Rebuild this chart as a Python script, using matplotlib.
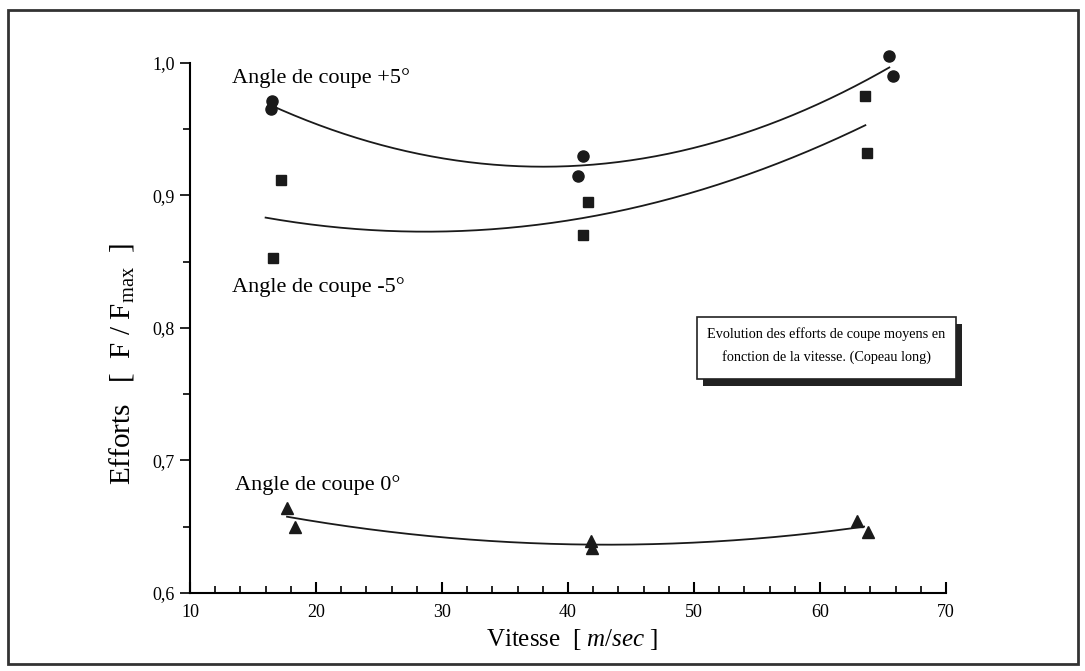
import numpy as np
import matplotlib.pyplot as plt
from matplotlib.patches import Rectangle
from matplotlib.ticker import MultipleLocator, FuncFormatter

plt.rcParams['font.family'] = ['Liberation Serif', 'DejaVu Serif']
plt.rcParams['mathtext.fontset'] = 'custom'
plt.rcParams['mathtext.rm'] = 'Liberation Serif'
plt.rcParams['mathtext.it'] = 'Liberation Serif:italic'

# Données
vitesse_p5 = [16.5, 16.4, 41.2, 40.8, 65.5, 65.8]
effort_p5 = [0.971, 0.965, 0.930, 0.915, 1.005, 0.990]

vitesse_m5 = [17.2, 16.6, 41.6, 41.2, 63.6, 63.7]
effort_m5 = [0.912, 0.853, 0.895, 0.870, 0.975, 0.932]

vitesse_0 = [17.7, 18.3, 41.8, 41.9, 62.9, 63.8]
effort_0 = [0.664, 0.650, 0.639, 0.634, 0.654, 0.646]

fig = plt.figure(figsize=(10.85, 6.71), dpi=100)
ax = fig.add_axes([190/1085, 1 - 593/671, (946-190)/1085, (593-63)/671])

# Points + courbes de tendance (polynôme d'ordre 2)
series = [
    (vitesse_p5, effort_p5, 'o', 8, (16.3, 65.5)),
    (vitesse_m5, effort_m5, 's', 7, (16.0, 63.6)),
    (vitesse_0, effort_0, '^', 9, (17.7, 63.5)),
]
for vx, vy, mk, ms, (x0, x1) in series:
    ax.plot(vx, vy, linestyle='None', marker=mk, markersize=ms,
            color='#1a1a1a', clip_on=False, zorder=3)
    coef = np.polyfit(vx, vy, 2)
    xx = np.linspace(x0, x1, 200)
    ax.plot(xx, np.polyval(coef, xx), color='#1a1a1a', lw=1.3, clip_on=False)

ax.set_xlim(10, 70)
ax.set_ylim(0.6, 1.0)
for s in ['top', 'right']:
    ax.spines[s].set_visible(False)
for s in ['left', 'bottom']:
    ax.spines[s].set_linewidth(1.5)

ax.xaxis.set_major_locator(MultipleLocator(10))
ax.xaxis.set_minor_locator(MultipleLocator(2))
ax.yaxis.set_major_locator(MultipleLocator(0.1))
ax.yaxis.set_minor_locator(MultipleLocator(0.05))
ax.yaxis.set_major_formatter(FuncFormatter(lambda v, p: f'{v:.1f}'.replace('.', ',')))

ax.tick_params(axis='x', which='major', direction='in', length=8, width=1.5, labelsize=13, pad=8)
ax.tick_params(axis='x', which='minor', direction='in', length=5, width=1.2)
ax.tick_params(axis='y', which='major', direction='out', length=7, width=1.2, labelsize=13, pad=4)
ax.tick_params(axis='y', which='minor', direction='out', length=5, width=1.2)

ax.set_xlabel('Vitesse  [ $\\mathit{m/sec}$ ]', fontsize=18)
ax.xaxis.set_label_coords(0.505, -0.064)
ax.set_ylabel('Efforts   [  F / F$_{\\mathrm{max}}$  ]', fontsize=21)
ax.yaxis.set_label_coords(-0.072, 0.432)

# Étiquettes des séries
ax.text(13.3, 0.989, 'Angle de coupe +5°', fontsize=16, va='center', ha='left')
ax.text(13.3, 0.831, 'Angle de coupe -5°', fontsize=16, va='center', ha='left')
ax.text(13.6, 0.6815, 'Angle de coupe 0°', fontsize=16, va='center', ha='left')

# Encadré avec ombre
bx0, bx1 = 697/1085, 956/1085
by0, by1 = 1 - 379/671, 1 - 317/671
dx, dy = 6/1085, 7/671
fig.add_artist(Rectangle((bx0 + dx, by0 - dy), bx1 - bx0, by1 - by0,
                         transform=fig.transFigure, facecolor='#222222', edgecolor='none'))
fig.add_artist(Rectangle((bx0, by0), bx1 - bx0, by1 - by0,
                         transform=fig.transFigure, facecolor='white', edgecolor='#222222', lw=1.2))
fig.text((bx0 + bx1) / 2, 1 - 334/671, 'Evolution des efforts de coupe moyens en',
         ha='center', va='center', fontsize=10.3)
fig.text((bx0 + bx1) / 2, 1 - 357/671, 'fonction de la vitesse. (Copeau long)',
         ha='center', va='center', fontsize=10.3)

# Cadre extérieur
fig.add_artist(Rectangle((8/1085, 1 - 664/671), (1078-8)/1085, (664-10)/671,
                         transform=fig.transFigure, facecolor='none', edgecolor='#333333', lw=2))

fig.savefig('out.png', dpi=100)
